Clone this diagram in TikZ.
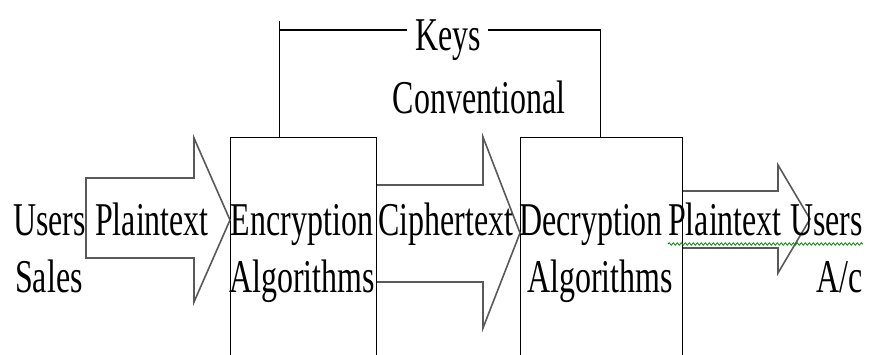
\documentclass[tikz,border=0pt]{standalone}
\usepackage{fontspec}
\setmainfont{Liberation Serif}[FakeStretch=0.68]
\usetikzlibrary{calc,decorations.pathmorphing}

\tikzset{
  lbl/.style={font=\fontsize{47}{57}\selectfont, inner sep=0pt},
  algbox/.style={draw, line width=1.2pt, minimum width=#1, minimum height=240pt, anchor=north west, inner sep=0pt},
  blockarr/.style={draw=black!65, line width=1.6pt, line join=miter},
  bracket/.style={draw, line width=1.2pt}
}

\begin{document}
\begin{tikzpicture}[x=1pt,y=-1pt]
                \useasboundingbox (0,0) rectangle (870,354);
                \clip (0,0) rectangle (870,354);
                % the two algorithm boxes
                \node[algbox=146pt] (enc) at (230,137) {};
                \node[algbox=162pt] (dec) at (520,137) {};
                % block arrows
                \coordinate (tip1) at (enc.west |- 0,220);
                \coordinate (tip2) at (dec.west |- 0,233);
                \coordinate (tip3) at (810,219);
                \draw[blockarr] (86,178) -- (194,178) -- (194,138) -- (tip1) -- (194,302) -- (194,258) -- (86,258) -- cycle;
                \draw[blockarr] (enc.east |- 0,185) -- (483,185) -- (483,137) -- (tip2) -- (483,328) -- (483,282) -- (enc.east |- 0,282);
                \draw[blockarr] (dec.east |- 0,191) -- (778,191) -- (778,165) -- (tip3) -- (778,273) -- (778,248) -- (dec.east |- 0,248);
                % keys line
                \coordinate (ka) at ([xshift=-24pt]enc.north);
                \coordinate (kb) at ([xshift=-1pt]dec.north);
                \coordinate (ktop) at (ka |- 0,21);
                \coordinate (kw) at (407,30);
                \coordinate (ke) at (488,30);
                \draw[bracket] (ktop) -- (ka);
                \draw[bracket] (ka |- kw) -- (kw);
                \draw[bracket] (ke) -| (kb);
                % labels
                \node[lbl, anchor=base] (keys) at (448,50) {Keys};
                \node[lbl, anchor=base] (conv) at (479,113) {Conventional};
                \node[lbl, anchor=base west] (users1) at (13,235) {Users};
                \node[lbl, anchor=base west] (sales) at (15,292) {Sales};
                \node[lbl, anchor=base west] (pt1) at (95,235) {Plaintext};
                \node[lbl, anchor=base] (enc1) at (302,235) {Encryption};
                \node[lbl, anchor=base] (enc2) at (302,292) {Algorithms};
                \node[lbl, anchor=base west] (ct) at (378,235) {Ciphertext};
                \node[lbl, anchor=base] (dec1) at (591,235) {Decryption};
                \node[lbl, anchor=base] (dec2) at (600,292) {Algorithms};
                \node[lbl, anchor=base west] (pt2) at (668,235) {Plaintext};
                \node[lbl, anchor=base east] (users2) at (863,235) {Users};
                \node[lbl, anchor=base east] (ac) at (863,292) {A/c};
                % spell check line
                \draw[green!55!black, line width=0.8pt, decorate, decoration={snake, amplitude=1.2pt, segment length=4pt}] (pt2.base west) ++(0,9) coordinate (sq) (sq) -- (sq -| users2.east);
            \end{tikzpicture}
\end{document}
